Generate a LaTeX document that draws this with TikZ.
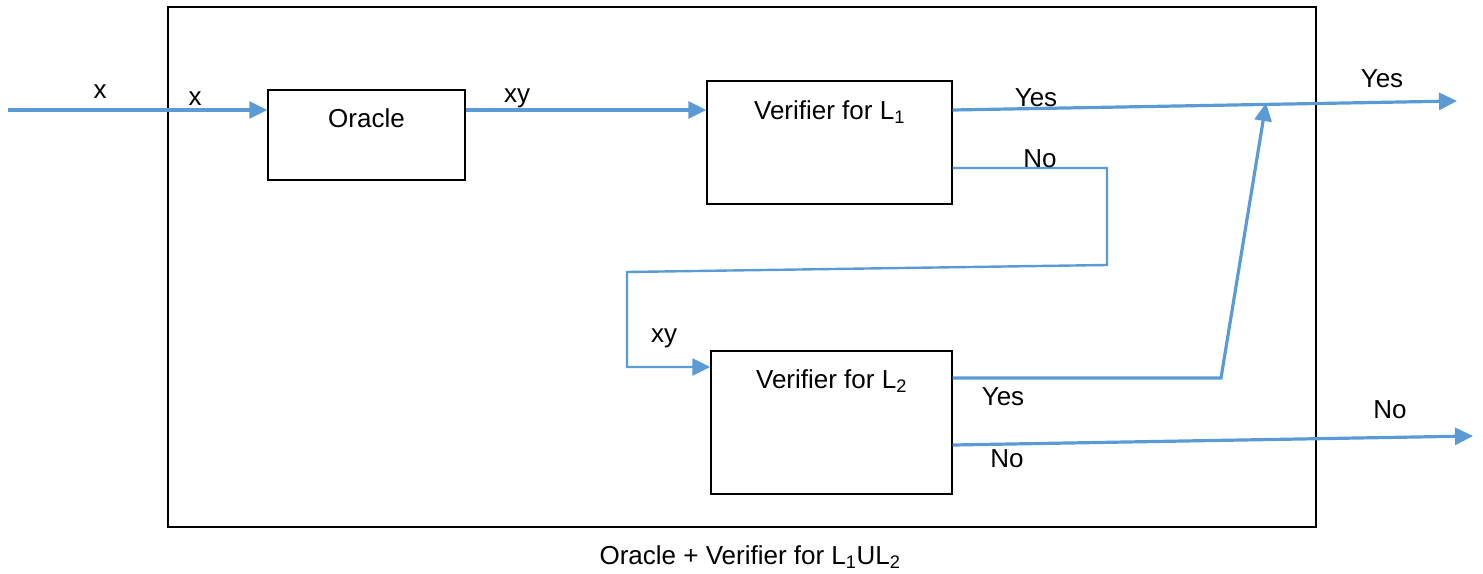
\documentclass[tikz,border=0pt]{standalone}
\usepackage{fontspec}
\setmainfont{Liberation Sans}
\usepackage{tikz}
\usetikzlibrary{positioning,arrows.meta}
\definecolor{wBlue}{RGB}{91,155,213}
\tikzset{
  frame/.style={rectangle, draw=black, line width=1.8pt, inner sep=0pt},
  blk/.style={rectangle, draw=black, line width=1.4pt, inner sep=0pt},
  txt/.style={inner sep=0pt, font=\fontsize{26}{31}\selectfont},
  flow/.style={-{Triangle[length=18pt, width=17pt]}, draw=wBlue, line width=3.2pt},
  backline/.style={draw=wBlue, line width=2.4pt, -{Triangle[length=18pt, width=17pt]}},
}

\begin{document}
\begin{tikzpicture}[x=1pt, y=-1pt]
  \useasboundingbox (0,0) rectangle (1483,573);
  % boxes
  \node[frame, minimum width=1148pt, minimum height=520pt] (outer) at (742,267) {};
  \node[blk, minimum width=197pt, minimum height=90pt]  (oracle) at (366.5,135) {};
  \node[blk, minimum width=245pt, minimum height=123pt] (v1) at (829.5,142.5) {};
  \node[blk, minimum width=241pt, minimum height=143pt] (v2) at (831.5,422.5) {};
  \node[txt, below=19pt of oracle.north] (toracle) {Oracle};
  \node[txt, below=20pt of v1.north] (tv1) {Verifier for L\textsubscript{1}};
  \node[txt, below=19pt of v2.north] (tv2) {Verifier for L\textsubscript{2}};
  % end points
  \coordinate (in) at (8,110);
  \coordinate (yesout) at (1457,101);
  \coordinate (join) at (1266,103);
  \coordinate (bend) at (1221,378);
  \coordinate (noout) at (1473,436);
  % connectors
  \draw[flow] (in) -- (in -| oracle.west);
  \draw[flow] (oracle.east |- in) -- (in -| v1.west);
  \draw[flow] (v1.east |- in) -- (yesout);
  \draw[flow] (v2.east |- bend) -- (bend) -- (join);
  \draw[flow] (v2.east |- 0,445) -- (noout);
  \draw[backline] (v1.east |- 0,168) -- (1107,168) -- (1107,265)
    -- (627,272) -- (627,367) -- (v2.west |- 0,367);
  % labels
  \node[txt] (lx1)  at (100,92)   {x};
  \node[txt] (lx2)  at (195,99)   {x};
  \node[txt] (lxy1) at (517,98)   {xy};
  \node[txt] (lyes1) at (1036,98) {Yes};
  \node[txt] (lyes2) at (1382,79) {Yes};
  \node[txt] (lno1) at (1040,159) {No};
  \node[txt] (lxy2) at (664,338)  {xy};
  \node[txt] (lyes3) at (1003,397) {Yes};
  \node[txt] (lno2) at (1007,459) {No};
  \node[txt] (lno3) at (1390,410) {No};
  \node[txt] (caption) at (750,557) {Oracle + Verifier for L\textsubscript{1}UL\textsubscript{2}};
\end{tikzpicture}
\end{document}
